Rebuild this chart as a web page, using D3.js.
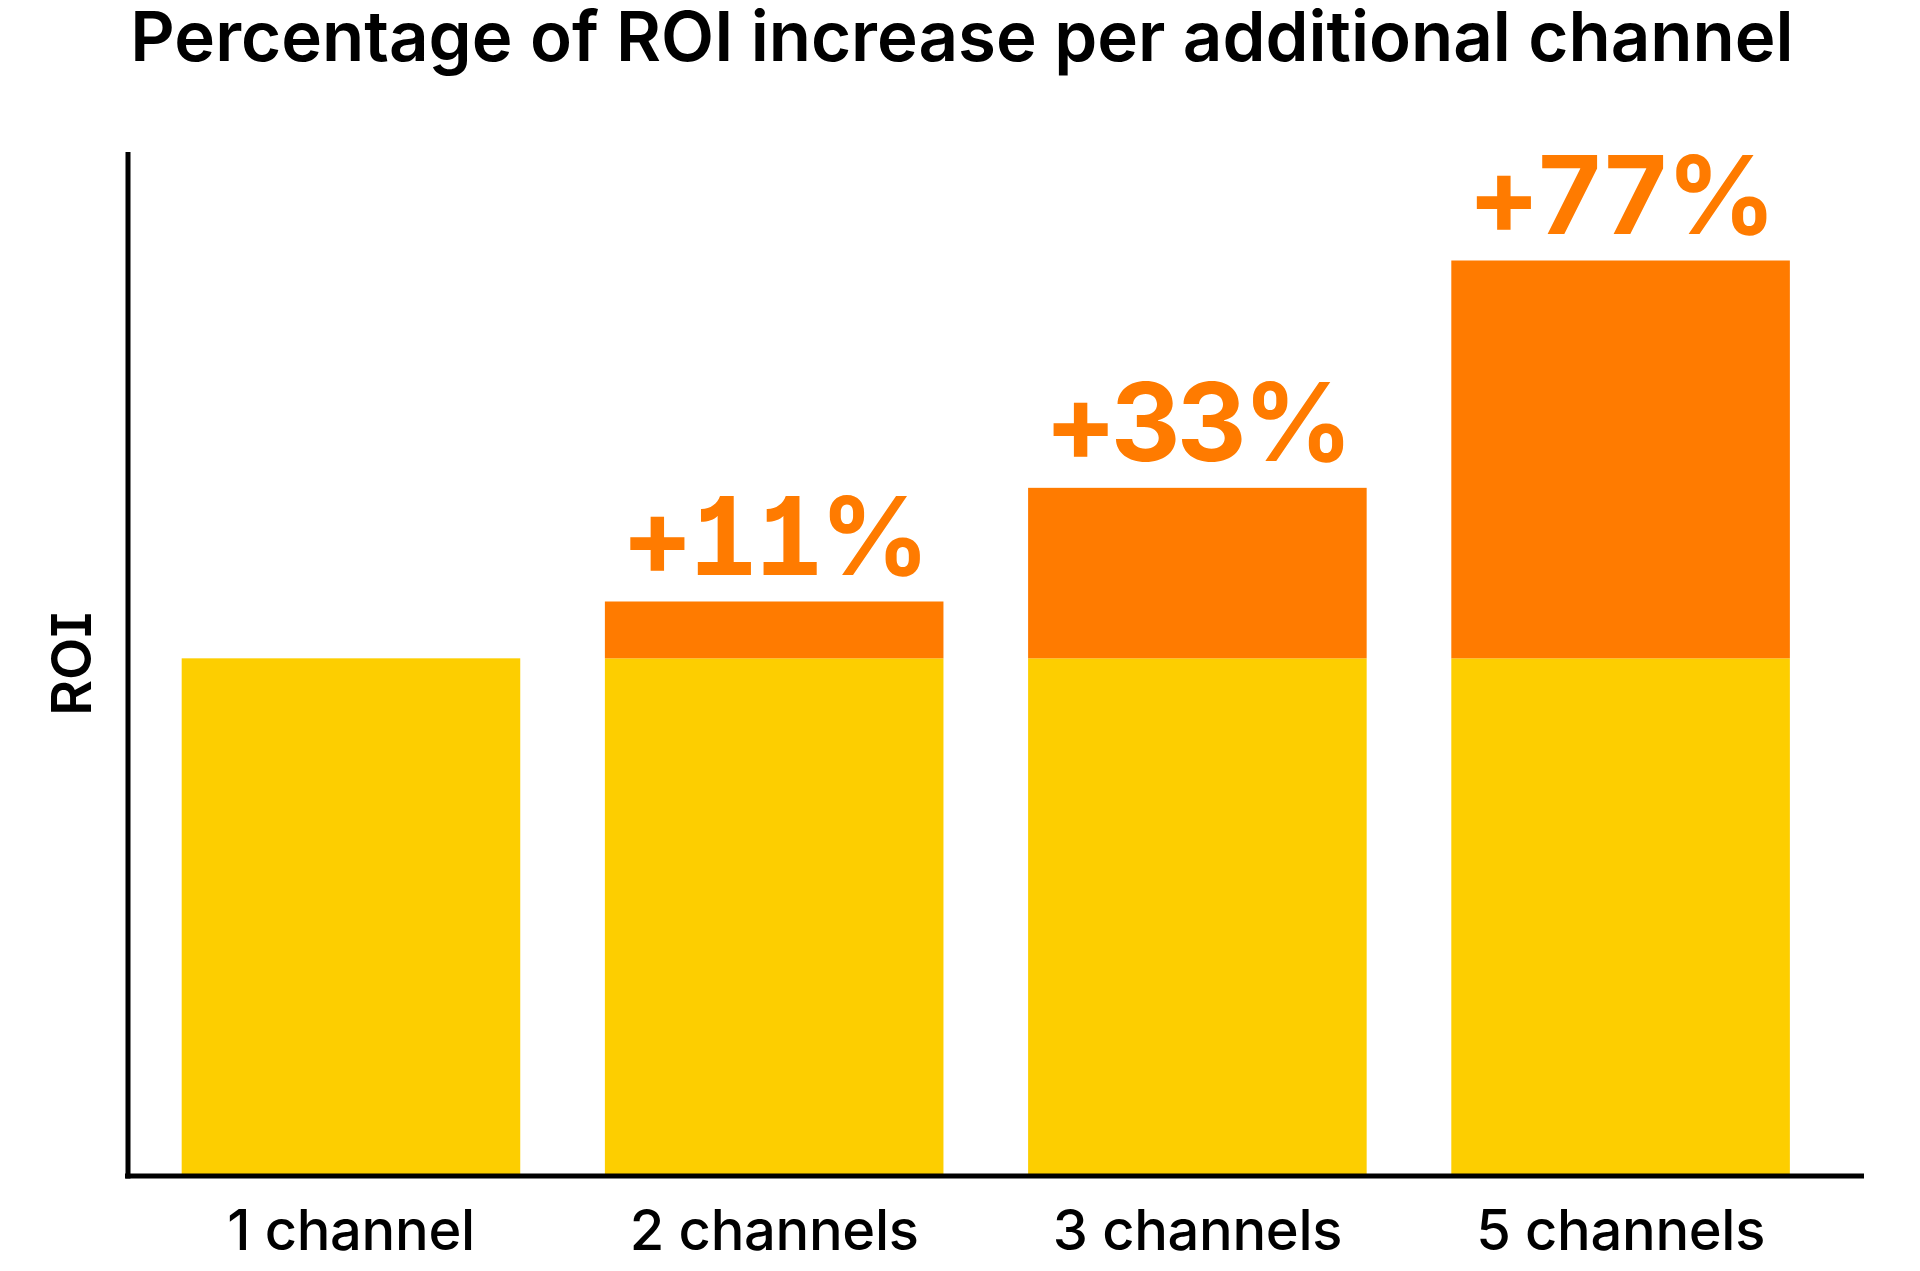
<!DOCTYPE html>
<html>
<head>
<meta charset="utf-8">
<script src="https://cdn.jsdelivr.net/npm/d3@7"></script>
<style>
  html, body { margin: 0; padding: 0; background: #ffffff; }
  svg { display: block; }
</style>
</head>
<body>
<div id="chart"></div>
<script>
// ---- data ----
const categories = ["1 channel", "2 channels", "3 channels", "5 channels"];
const baseValues = [100, 100, 100, 100];
const increaseValues = [0, 11, 33, 77];
const increaseLabels = ["", "+11%", "+33%", "+77%"];
const titleText = "Percentage of ROI increase per additional channel";
const yAxisLabel = "ROI";
const yDomainMax = 198;

// ---- layout ----
const W = 1920, H = 1271;
const axisLeft = 128, axisRight = 1864, axisTop = 152, axisBottom = 1176;
const colBase = "#FDCE00", colInc = "#FF7B00";

const svg = d3.select("#chart").append("svg")
  .attr("width", W).attr("height", H);

const x = d3.scaleBand()
  .domain(categories)
  .range([axisLeft, axisRight])
  .paddingInner(0.2)
  .paddingOuter(0.151)
  .align(0.42);

const y = d3.scaleLinear()
  .domain([0, yDomainMax])
  .range([axisBottom - 1, axisTop]);

const rows = categories.map((c, i) => ({
  cat: c, base: baseValues[i], inc: increaseValues[i], label: increaseLabels[i]
}));

// base bars
svg.append("g").selectAll("rect").data(rows).join("rect")
  .attr("x", d => x(d.cat))
  .attr("width", x.bandwidth())
  .attr("y", d => y(d.base))
  .attr("height", d => y(0) - y(d.base))
  .attr("fill", colBase);

// increase bars
svg.append("g").selectAll("rect").data(rows.filter(d => d.inc > 0)).join("rect")
  .attr("x", d => x(d.cat))
  .attr("width", x.bandwidth())
  .attr("y", d => y(d.base + d.inc))
  .attr("height", d => y(d.base) - y(d.base + d.inc))
  .attr("fill", colInc);

// increase labels
svg.append("g").selectAll("text").data(rows.filter(d => d.inc > 0)).join("text")
  .attr("x", d => x(d.cat) + x.bandwidth() / 2)
  .attr("y", d => y(d.base + d.inc) - 27)
  .attr("text-anchor", "middle")
  .attr("fill", colInc)
  .style("font-family", "Inter, 'Liberation Sans', Arial, sans-serif")
  .style("font-weight", 700)
  .style("font-size", "108px")
  .style("letter-spacing", "-4px")
  .style("font-feature-settings", "'tnum' 1, 'cv01' 1")
  .text(d => d.label);

// axes (lines only)
const xAxis = svg.append("g")
  .attr("transform", `translate(0,${axisBottom})`)
  .call(d3.axisBottom(x).tickSize(0).tickPadding(34));
xAxis.select(".domain")
  .attr("d", `M${axisLeft - 3},0H${axisRight}`)
  .attr("stroke", "#000").attr("stroke-width", 5);
xAxis.selectAll(".tick text")
  .attr("fill", "#000")
  .style("font-family", "Inter, 'Liberation Sans', Arial, sans-serif")
  .style("font-weight", 500)
  .style("font-size", "56px")
  .style("letter-spacing", "-0.3px");

const yAxis = svg.append("g")
  .attr("transform", `translate(${axisLeft},0)`)
  .call(d3.axisLeft(y).tickValues([]).tickSize(0));
yAxis.select(".domain")
  .attr("d", `M0,${axisTop}V${axisBottom + 2.5}`)
  .attr("stroke", "#000").attr("stroke-width", 5);

// y label
svg.append("text")
  .attr("transform", `translate(91,${(axisTop + axisBottom) / 2}) rotate(-90)`)
  .attr("text-anchor", "middle")
  .attr("fill", "#000")
  .style("font-family", "Inter, 'Liberation Sans', Arial, sans-serif")
  .style("font-weight", 600)
  .style("font-size", "55px")
  .style("font-feature-settings", "'cv08' 1")
  .text(yAxisLabel);

// title
svg.append("text")
  .attr("x", 962)
  .attr("y", 61)
  .attr("text-anchor", "middle")
  .attr("fill", "#000")
  .style("font-family", "Inter, 'Liberation Sans', Arial, sans-serif")
  .style("font-weight", 600)
  .style("font-size", "69px")
  .text(titleText);
</script>
</body>
</html>
